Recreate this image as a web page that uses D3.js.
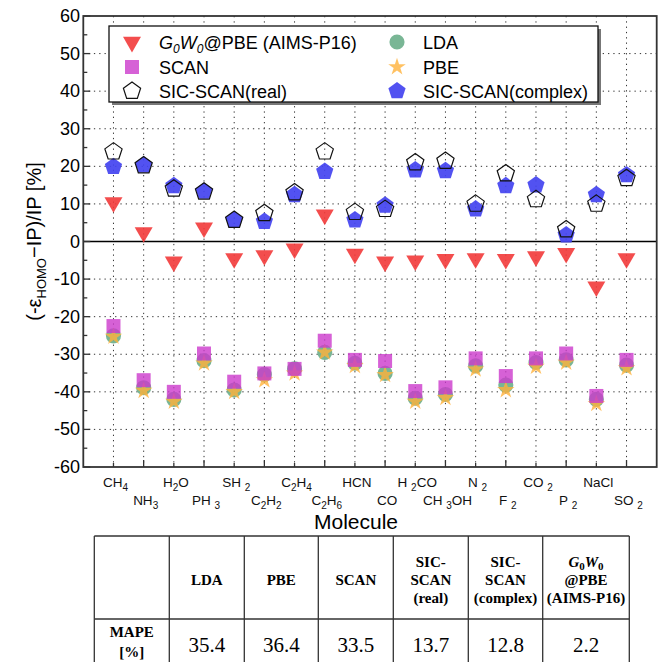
<!DOCTYPE html>
<html>
<head>
<meta charset="utf-8">
<script src="https://cdn.jsdelivr.net/npm/d3@7"></script>
<style>
  html, body { margin: 0; padding: 0; background: #fff; }
  svg { display: block; }
</style>
</head>
<body>
<script>
// molecule labels, "_" marks a subscript digit
const molecules = ["CH_4", "NH_3", "H_2O", "PH _3", "SH _2", "C_2H_2", "C_2H_4", "C_2H_6", "HCN",
  "CO", "H _2CO", "CH _3OH", "N _2", "F _2", "CO _2", "P _2", "NaCl", "SO _2"];

// (-e_HOMO - IP)/IP in %
const g0w0 = [10.4, 2.4, -5.4, 3.7, -4.5, -3.7, -1.9, 7.1, -3.3, -5.4, -5.1, -4.7, -4.5, -4.7, -4.0, -3.1, -12.0, -4.5];
const scan = [-22.5, -36.9, -40.0, -29.8, -37.3, -35.1, -33.9, -26.4, -31.5, -31.8, -39.8, -38.8, -31.1, -35.8, -31.1, -29.8, -41.1, -31.5];
const lda = [-25.1, -38.9, -42.0, -31.7, -39.5, -35.4, -33.9, -29.5, -32.4, -35.1, -41.7, -40.7, -33.1, -38.2, -32.2, -31.5, -42.0, -32.9];
const pbe = [-25.3, -39.7, -42.6, -32.4, -40.0, -36.9, -35.1, -29.5, -33.1, -35.5, -42.6, -41.6, -34.0, -39.5, -33.3, -32.2, -43.2, -33.7];
const sicReal = [23.9, 20.2, 14.0, 13.2, 5.7, 7.5, 13.0, 23.9, 7.8, 8.6, 21.0, 21.4, 10.0, 18.1, 11.2, 3.2, 10.0, 16.8];
const sicComplex = [19.9, 20.3, 14.8, 13.3, 5.7, 5.3, 12.4, 18.6, 5.7, 9.6, 19.0, 18.8, 8.6, 14.8, 15.0, 1.7, 12.4, 17.7];

const yTicks = [60, 50, 40, 30, 20, 10, 0, -10, -20, -30, -40, -50, -60];

// MAPE table
const tableHeads = [[], ["LDA"], ["PBE"], ["SCAN"], ["SIC-", "SCAN", "(real)"], ["SIC-", "SCAN", "(complex)"], ["G0W0", "@PBE", "(AIMS-P16)"]];
const mape = [35.4, 36.4, 33.5, 13.7, 12.8, 2.2];

const width = 665, height = 662;
const svg = d3.select("body").append("svg").attr("width", width).attr("height", height);

const x = d3.scaleLinear().domain([0, 19]).range([83.3, 656.7]);
const y = d3.scaleLinear().domain([-60, 60]).range([467, 16]);
const sans = "'Liberation Sans', Arial, sans-serif";
const serif = "'Liberation Serif', 'Times New Roman', serif";

// custom pentagon, size = r^2
const pentagon = {
  draw(ctx, size) {
    const r = Math.sqrt(size);
    for (let i = 0; i < 5; i++) {
      const a = -Math.PI / 2 + i * 2 * Math.PI / 5;
      if (i === 0) ctx.moveTo(r * Math.cos(a), r * Math.sin(a));
      else ctx.lineTo(r * Math.cos(a), r * Math.sin(a));
    }
    ctx.closePath();
  }
};

const series = [
  { name: "LDA", vals: lda, sym: d3.symbol(d3.symbolCircle, 180)(), rot: 0, fill: "#6aae89", op: 0.9 },
  { name: "PBE", vals: pbe, sym: d3.symbol(d3.symbolStar, 95)(), rot: 0, fill: "#ffb13b", op: 0.8 },
  { name: "SCAN", vals: scan, sym: d3.symbol(d3.symbolSquare, 196)(), rot: 0, fill: "#cc3acc", op: 0.8 },
  { name: "G0W0", vals: g0w0, sym: d3.symbol(d3.symbolTriangle, 140)(), rot: 180, fill: "#f23a3a", op: 0.9 },
  { name: "complex", vals: sicComplex, sym: d3.symbol(pentagon, 82)(), rot: 0, fill: "#4343f0", op: 0.92 },
  { name: "real", vals: sicReal, sym: d3.symbol(pentagon, 82)(), rot: 0, fill: "none", op: 1, stroke: "#111" }
];
const byName = {};
series.forEach(s => (byName[s.name] = s));

// grid
const grid = svg.append("g").attr("stroke", "#333").attr("stroke-width", 1).attr("stroke-dasharray", "1.3,4");
grid.selectAll("line.h")
  .data(yTicks.filter(t => t !== 0 && Math.abs(t) !== 60))
  .enter().append("line")
  .attr("x1", x(0)).attr("x2", x(19))
  .attr("y1", d => y(d)).attr("y2", d => y(d));
grid.selectAll("line.v")
  .data(d3.range(1, 19))
  .enter().append("line")
  .attr("x1", d => x(d)).attr("x2", d => x(d))
  .attr("y1", y(60)).attr("y2", y(-60));

// zero line
svg.append("line")
  .attr("x1", x(0)).attr("x2", x(19))
  .attr("y1", y(0)).attr("y2", y(0))
  .attr("stroke", "#000").attr("stroke-width", 1.3);

// ticks
const ticks = svg.append("g").attr("stroke", "#333").attr("stroke-width", 1.3);
d3.range(-60, 61, 5).forEach(v => {
  const len = v % 10 === 0 ? 7 : 4;
  ticks.append("line").attr("x1", x(0)).attr("x2", x(0) + len).attr("y1", y(v)).attr("y2", y(v));
});
d3.range(1, 19).forEach(i => {
  const len = i % 2 === 0 ? 7 : 4;
  ticks.append("line").attr("x1", x(i)).attr("x2", x(i)).attr("y1", y(-60)).attr("y2", y(-60) - len);
});

// frame
svg.append("rect")
  .attr("x", x(0)).attr("y", y(60))
  .attr("width", x(19) - x(0)).attr("height", y(-60) - y(60))
  .attr("fill", "none").attr("stroke", "#333").attr("stroke-width", 1.8);

// y tick labels
svg.append("g").selectAll("text")
  .data(yTicks)
  .enter().append("text")
  .attr("x", 80).attr("y", d => y(d) + 6)
  .attr("text-anchor", "end")
  .attr("font-family", sans).attr("font-size", 18)
  .text(d => d);

// y title
const yt = svg.append("text")
  .attr("transform", `translate(41,${y(0)}) rotate(-90)`)
  .attr("text-anchor", "middle")
  .attr("font-family", sans).attr("font-size", 20);
yt.append("tspan").text("(-ε");
yt.append("tspan").attr("font-size", 13).attr("dy", 5).text("HOMO");
yt.append("tspan").attr("dy", -5).text("−IP)/IP [%]");

// molecule labels, two alternating rows
function addFormula(sel, str) {
  const parts = str.split(/_(\d)/);
  let shifted = false;
  parts.forEach((p, i) => {
    if (p === "") return;
    const t = sel.append("tspan").text(p);
    if (i % 2 === 1) {
      t.attr("font-size", 10).attr("dy", 4);
      shifted = true;
    } else if (shifted) {
      t.attr("dy", -4);
      shifted = false;
    }
  });
}
molecules.forEach((m, i) => {
  const t = svg.append("text")
    .attr("x", x(i + 1) + 2).attr("y", i % 2 === 0 ? 487 : 505)
    .attr("text-anchor", "middle")
    .attr("font-family", sans).attr("font-size", 13.5).attr("fill", "#111");
  addFormula(t, m);
});

svg.append("text")
  .attr("x", 356).attr("y", 529)
  .attr("text-anchor", "middle")
  .attr("font-family", sans).attr("font-size", 21)
  .text("Molecule");

// markers
series.forEach(s => {
  svg.append("g").selectAll("path")
    .data(s.vals)
    .enter().append("path")
    .attr("d", s.sym)
    .attr("transform", (d, i) => `translate(${x(i + 1)},${y(d)}) rotate(${s.rot})`)
    .attr("fill", s.fill)
    .attr("fill-opacity", s.op)
    .attr("stroke", s.stroke || "none")
    .attr("stroke-width", 1.2);
});

// legend
const leg = svg.append("g");
leg.append("rect").attr("x", 112).attr("y", 29).attr("width", 489).attr("height", 76).attr("fill", "#777");
leg.append("rect").attr("x", 109).attr("y", 26).attr("width", 489).attr("height", 76)
  .attr("fill", "#fff").attr("stroke", "#111").attr("stroke-width", 1.3);

const legendItems = [
  { s: "G0W0", sx: 132, tx: 159, cy: 42 },
  { s: "SCAN", sx: 132, tx: 159, cy: 67, label: "SCAN" },
  { s: "real", sx: 132, tx: 159, cy: 91, label: "SIC-SCAN(real)" },
  { s: "LDA", sx: 397, tx: 423, cy: 42, label: "LDA" },
  { s: "PBE", sx: 397, tx: 423, cy: 67, label: "PBE" },
  { s: "complex", sx: 397, tx: 423, cy: 91, label: "SIC-SCAN(complex)" }
];
legendItems.forEach(it => {
  const s = byName[it.s];
  leg.append("path")
    .attr("d", s.sym)
    .attr("transform", `translate(${it.sx},${it.cy}) rotate(${s.rot})`)
    .attr("fill", s.fill).attr("fill-opacity", s.op)
    .attr("stroke", s.stroke || "none").attr("stroke-width", 1.2);
  const t = leg.append("text")
    .attr("x", it.tx).attr("y", it.cy + 6.5)
    .attr("font-family", sans).attr("font-size", 18);
  if (it.label) {
    t.text(it.label);
  } else {
    t.append("tspan").attr("font-style", "italic").text("G");
    t.append("tspan").attr("font-style", "italic").attr("font-size", 12).attr("dy", 4).text("0");
    t.append("tspan").attr("font-style", "italic").attr("dy", -4).text("W");
    t.append("tspan").attr("font-style", "italic").attr("font-size", 12).attr("dy", 4).text("0");
    t.append("tspan").attr("dy", -4).text("@PBE (AIMS-P16)");
  }
});

// table
const colEdges = [94.3, 169.3, 244.3, 318.3, 393.3, 468.3, 542.7, 629.3];
const tTop = 536, tMid = 619, tBot = 670;
const tbl = svg.append("g");
const tl = tbl.append("g").attr("stroke", "#333").attr("stroke-width", 1.3);
tl.append("line").attr("x1", colEdges[0]).attr("x2", colEdges[7]).attr("y1", tTop).attr("y2", tTop);
tl.append("line").attr("x1", colEdges[0]).attr("x2", colEdges[7]).attr("y1", tMid).attr("y2", tMid);
colEdges.forEach(cx => {
  tl.append("line").attr("x1", cx).attr("x2", cx).attr("y1", tTop).attr("y2", tBot);
});

tableHeads.forEach((lines, c) => {
  const cx = (colEdges[c] + colEdges[c + 1]) / 2;
  const y0 = 580 - (lines.length - 1) * 9;
  lines.forEach((ln, k) => {
    const t = tbl.append("text")
      .attr("x", cx).attr("y", y0 + k * 18 + 5)
      .attr("text-anchor", "middle")
      .attr("font-family", serif).attr("font-weight", "bold").attr("font-size", 15);
    if (ln === "G0W0") {
      t.append("tspan").attr("font-style", "italic").text("G");
      t.append("tspan").attr("font-size", 11).attr("dy", 3).text("0");
      t.append("tspan").attr("font-style", "italic").attr("dy", -3).text("W");
      t.append("tspan").attr("font-size", 11).attr("dy", 3).text("0");
    } else {
      t.text(ln);
    }
  });
});

const rowHead = ["MAPE", "[%]"];
rowHead.forEach((ln, k) => {
  tbl.append("text")
    .attr("x", (colEdges[0] + colEdges[1]) / 2).attr("y", 637 + k * 20)
    .attr("text-anchor", "middle")
    .attr("font-family", serif).attr("font-weight", "bold").attr("font-size", 15)
    .text(ln);
});
mape.forEach((v, i) => {
  tbl.append("text")
    .attr("x", (colEdges[i + 1] + colEdges[i + 2]) / 2).attr("y", 652)
    .attr("text-anchor", "middle")
    .attr("font-family", serif).attr("font-size", 21)
    .text(v.toFixed(1));
});
</script>
</body>
</html>
